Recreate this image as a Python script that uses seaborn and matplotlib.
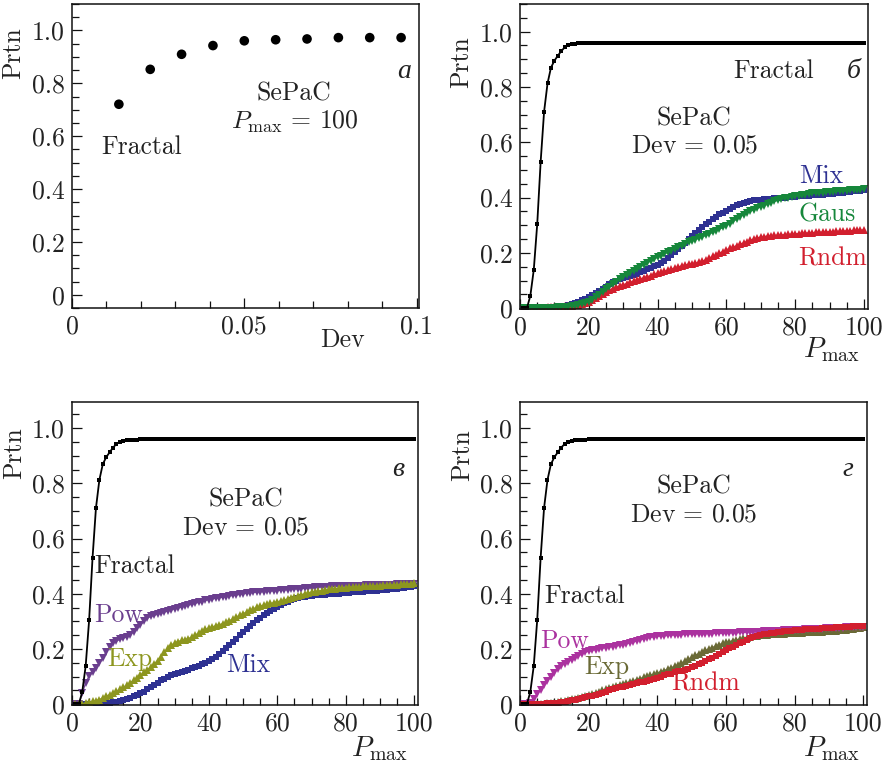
import numpy as np
import matplotlib
matplotlib.use("Agg")
import matplotlib.pyplot as plt
import seaborn as sns
from matplotlib.ticker import MultipleLocator

# ---------------- data ----------------
dev = [0.0136, 0.0227, 0.0318, 0.0409, 0.0500, 0.0591, 0.0682, 0.0773, 0.0864, 0.0955]
prtn_dev = [0.721, 0.853, 0.910, 0.943, 0.961, 0.965, 0.968, 0.973, 0.973, 0.973]

pmax = list(range(1, 101))

fractal = [0.000, 0.000, 0.045, 0.139, 0.304, 0.530, 0.711, 0.813, 0.870, 0.895,
           0.913, 0.930, 0.943, 0.951, 0.955, 0.957, 0.958, 0.959, 0.959, 0.960,
           0.960, 0.960, 0.960, 0.960, 0.960, 0.960, 0.960, 0.960, 0.960, 0.960,
           0.960, 0.960, 0.960, 0.960, 0.960, 0.960, 0.960, 0.960, 0.960, 0.960,
           0.960, 0.960, 0.960, 0.960, 0.960, 0.960, 0.960, 0.960, 0.960, 0.960,
           0.960, 0.960, 0.960, 0.960, 0.960, 0.960, 0.960, 0.960, 0.960, 0.960,
           0.960, 0.960, 0.960, 0.960, 0.960, 0.960, 0.960, 0.960, 0.960, 0.960,
           0.960, 0.960, 0.960, 0.960, 0.960, 0.960, 0.960, 0.960, 0.960, 0.960,
           0.960, 0.960, 0.960, 0.960, 0.960, 0.960, 0.960, 0.960, 0.960, 0.960,
           0.960, 0.960, 0.960, 0.960, 0.960, 0.960, 0.960, 0.960, 0.960, 0.960]

mix = [0.000, 0.000, 0.000, 0.000, 0.001, 0.001, 0.001, 0.002, 0.003, 0.004,
       0.005, 0.007, 0.009, 0.012, 0.015, 0.019, 0.023, 0.028, 0.033, 0.039,
       0.046, 0.054, 0.062, 0.070, 0.078, 0.086, 0.093, 0.099, 0.104, 0.108,
       0.112, 0.116, 0.120, 0.125, 0.130, 0.135, 0.140, 0.145, 0.151, 0.157,
       0.164, 0.172, 0.181, 0.191, 0.202, 0.213, 0.225, 0.237, 0.249, 0.261,
       0.273, 0.284, 0.294, 0.304, 0.313, 0.322, 0.331, 0.339, 0.346, 0.353,
       0.360, 0.366, 0.372, 0.377, 0.381, 0.385, 0.388, 0.390, 0.392, 0.393,
       0.394, 0.395, 0.396, 0.397, 0.398, 0.399, 0.400, 0.401, 0.402, 0.403,
       0.404, 0.405, 0.406, 0.407, 0.408, 0.409, 0.410, 0.411, 0.412, 0.413,
       0.414, 0.415, 0.416, 0.418, 0.419, 0.421, 0.422, 0.424, 0.425, 0.427]

gaus = [0.000, 0.000, 0.000, 0.000, 0.000, 0.001, 0.001, 0.001, 0.002, 0.002,
        0.003, 0.003, 0.004, 0.005, 0.007, 0.009, 0.012, 0.015, 0.019, 0.023,
        0.030, 0.039, 0.049, 0.059, 0.068, 0.077, 0.086, 0.095, 0.104, 0.112,
        0.120, 0.128, 0.136, 0.143, 0.150, 0.157, 0.164, 0.171, 0.178, 0.184,
        0.190, 0.196, 0.202, 0.208, 0.214, 0.220, 0.226, 0.232, 0.238, 0.243,
        0.248, 0.253, 0.258, 0.263, 0.268, 0.274, 0.280, 0.286, 0.292, 0.299,
        0.306, 0.314, 0.322, 0.330, 0.338, 0.345, 0.351, 0.356, 0.361, 0.366,
        0.371, 0.376, 0.381, 0.386, 0.390, 0.394, 0.397, 0.400, 0.403, 0.405,
        0.407, 0.409, 0.411, 0.413, 0.415, 0.416, 0.417, 0.418, 0.419, 0.420,
        0.421, 0.422, 0.423, 0.424, 0.425, 0.426, 0.427, 0.428, 0.429, 0.430]

rndm_b = [0.000, 0.000, 0.000, 0.001, 0.001, 0.002, 0.002, 0.003, 0.003, 0.004,
          0.005, 0.006, 0.007, 0.008, 0.009, 0.010, 0.012, 0.015, 0.019, 0.024,
          0.030, 0.037, 0.045, 0.053, 0.060, 0.066, 0.071, 0.076, 0.080, 0.085,
          0.089, 0.093, 0.098, 0.102, 0.106, 0.110, 0.114, 0.118, 0.122, 0.126,
          0.130, 0.134, 0.137, 0.141, 0.145, 0.149, 0.153, 0.156, 0.159, 0.161,
          0.163, 0.166, 0.170, 0.175, 0.181, 0.187, 0.193, 0.199, 0.205, 0.211,
          0.216, 0.221, 0.226, 0.231, 0.236, 0.241, 0.246, 0.250, 0.254, 0.257,
          0.259, 0.261, 0.262, 0.263, 0.264, 0.265, 0.266, 0.267, 0.268, 0.269,
          0.270, 0.271, 0.272, 0.272, 0.273, 0.274, 0.275, 0.275, 0.276, 0.277,
          0.277, 0.278, 0.278, 0.279, 0.280, 0.280, 0.281, 0.282, 0.282, 0.283]

rndm_d = [0.000, 0.000, 0.000, 0.001, 0.001, 0.002, 0.002, 0.003, 0.004, 0.005,
          0.006, 0.007, 0.009, 0.011, 0.014, 0.016, 0.019, 0.022, 0.025, 0.028,
          0.031, 0.034, 0.038, 0.042, 0.046, 0.050, 0.054, 0.058, 0.061, 0.064,
          0.067, 0.070, 0.073, 0.076, 0.079, 0.082, 0.085, 0.088, 0.092, 0.096,
          0.100, 0.104, 0.108, 0.111, 0.115, 0.119, 0.122, 0.125, 0.129, 0.133,
          0.138, 0.144, 0.150, 0.156, 0.162, 0.169, 0.176, 0.183, 0.190, 0.197,
          0.203, 0.209, 0.215, 0.221, 0.227, 0.233, 0.239, 0.244, 0.248, 0.251,
          0.253, 0.255, 0.257, 0.259, 0.261, 0.263, 0.264, 0.266, 0.267, 0.268,
          0.269, 0.270, 0.271, 0.272, 0.273, 0.274, 0.274, 0.275, 0.276, 0.277,
          0.277, 0.278, 0.279, 0.280, 0.280, 0.281, 0.282, 0.283, 0.284, 0.285]

pow_c = [0.000, 0.000, 0.040, 0.078, 0.102, 0.116, 0.130, 0.148, 0.168, 0.190,
         0.207, 0.221, 0.229, 0.235, 0.239, 0.244, 0.252, 0.263, 0.275, 0.287,
         0.301, 0.312, 0.318, 0.322, 0.326, 0.330, 0.334, 0.338, 0.342, 0.346,
         0.349, 0.352, 0.356, 0.359, 0.362, 0.366, 0.369, 0.372, 0.376, 0.379,
         0.381, 0.384, 0.386, 0.388, 0.390, 0.392, 0.394, 0.396, 0.398, 0.400,
         0.402, 0.404, 0.405, 0.406, 0.407, 0.408, 0.409, 0.410, 0.411, 0.412,
         0.413, 0.414, 0.415, 0.416, 0.417, 0.418, 0.419, 0.420, 0.421, 0.422,
         0.423, 0.424, 0.425, 0.425, 0.426, 0.427, 0.427, 0.428, 0.428, 0.429,
         0.429, 0.429, 0.430, 0.430, 0.430, 0.431, 0.431, 0.431, 0.432, 0.432,
         0.432, 0.433, 0.433, 0.433, 0.434, 0.434, 0.434, 0.435, 0.435, 0.436]

exp_c = [0.000, 0.000, 0.002, 0.004, 0.007, 0.010, 0.013, 0.017, 0.023, 0.029,
         0.035, 0.041, 0.047, 0.054, 0.061, 0.069, 0.078, 0.087, 0.096, 0.105,
         0.115, 0.125, 0.135, 0.146, 0.158, 0.172, 0.188, 0.203, 0.214, 0.222,
         0.227, 0.231, 0.234, 0.238, 0.243, 0.250, 0.258, 0.265, 0.271, 0.276,
         0.280, 0.284, 0.288, 0.292, 0.297, 0.303, 0.309, 0.316, 0.322, 0.328,
         0.334, 0.340, 0.346, 0.351, 0.355, 0.359, 0.362, 0.365, 0.368, 0.371,
         0.374, 0.377, 0.381, 0.385, 0.389, 0.393, 0.397, 0.400, 0.403, 0.406,
         0.408, 0.410, 0.412, 0.414, 0.416, 0.418, 0.419, 0.420, 0.421, 0.422,
         0.423, 0.424, 0.425, 0.426, 0.427, 0.427, 0.428, 0.429, 0.429, 0.430,
         0.431, 0.431, 0.432, 0.433, 0.433, 0.434, 0.435, 0.436, 0.437, 0.438]

pow_d = [0.000, 0.000, 0.006, 0.020, 0.036, 0.053, 0.068, 0.084, 0.100, 0.114,
         0.128, 0.139, 0.147, 0.154, 0.161, 0.168, 0.175, 0.182, 0.188, 0.192,
         0.195, 0.198, 0.201, 0.203, 0.205, 0.207, 0.209, 0.211, 0.213, 0.216,
         0.219, 0.222, 0.225, 0.229, 0.233, 0.237, 0.240, 0.242, 0.244, 0.246,
         0.247, 0.248, 0.249, 0.250, 0.251, 0.251, 0.252, 0.253, 0.254, 0.254,
         0.255, 0.255, 0.255, 0.256, 0.256, 0.256, 0.257, 0.257, 0.257, 0.258,
         0.258, 0.259, 0.259, 0.260, 0.260, 0.261, 0.262, 0.262, 0.263, 0.263,
         0.264, 0.265, 0.265, 0.266, 0.266, 0.267, 0.268, 0.268, 0.269, 0.269,
         0.270, 0.270, 0.271, 0.272, 0.272, 0.273, 0.273, 0.274, 0.275, 0.275,
         0.276, 0.276, 0.277, 0.277, 0.278, 0.279, 0.279, 0.280, 0.280, 0.281]

exp_d = [0.000, 0.000, 0.000, 0.001, 0.001, 0.002, 0.002, 0.003, 0.004, 0.006,
         0.008, 0.010, 0.012, 0.015, 0.018, 0.020, 0.023, 0.026, 0.029, 0.033,
         0.037, 0.042, 0.046, 0.050, 0.054, 0.058, 0.062, 0.066, 0.070, 0.074,
         0.078, 0.081, 0.085, 0.089, 0.093, 0.097, 0.101, 0.105, 0.109, 0.113,
         0.118, 0.122, 0.127, 0.132, 0.137, 0.143, 0.149, 0.156, 0.163, 0.170,
         0.177, 0.183, 0.189, 0.195, 0.200, 0.205, 0.211, 0.216, 0.220, 0.224,
         0.227, 0.230, 0.233, 0.236, 0.239, 0.241, 0.244, 0.246, 0.248, 0.249,
         0.251, 0.252, 0.253, 0.254, 0.255, 0.255, 0.256, 0.257, 0.257, 0.258,
         0.259, 0.259, 0.260, 0.260, 0.261, 0.262, 0.262, 0.263, 0.264, 0.265,
         0.266, 0.267, 0.268, 0.269, 0.270, 0.272, 0.273, 0.275, 0.277, 0.279]

y_tick_vals = [0, 0.2, 0.4, 0.6, 0.8, 1.0]
y_tick_labels = ["0", "0.2", "0.4", "0.6", "0.8", "1.0"]
xa_tick_vals = [0, 0.05, 0.1]
xa_tick_labels = ["0", "0.05", "0.1"]
xp_tick_vals = [0, 20, 40, 60, 80, 100]
xp_tick_labels = ["0", "20", "40", "60", "80", "100"]

# colours
C_MIX = "#2e3192"
C_GAUS = "#16873b"
C_RNDM = "#d21f2e"
C_POW_C = "#6a3e8e"
C_EXP_C = "#8d961f"
C_POW_D = "#ab329f"
C_EXP_D = "#6a6a36"
C_TXT = "#222222"

# ---------------- style ----------------
sns.set_style("ticks")
plt.rcParams["font.family"] = ["cmr10"]
plt.rcParams["mathtext.fontset"] = "cm"
plt.rcParams["axes.unicode_minus"] = False
plt.rcParams["axes.formatter.use_mathtext"] = True

FS = 18.5
CYR = dict(family=["Liberation Serif", "DejaVu Serif"], style="italic", fontsize=20)

fig = plt.figure(figsize=(8.9, 7.67), dpi=100)
ax_a = fig.add_axes([0.0809, 0.5984, 0.3899, 0.3963])
ax_b = fig.add_axes([0.5843, 0.5971, 0.3910, 0.3977])
ax_c = fig.add_axes([0.0809, 0.0808, 0.3891, 0.3954])
ax_d = fig.add_axes([0.5843, 0.0808, 0.3896, 0.3954])


def style_axes(ax, xticks, xlabels, xminor):
    ax.set_yticks(y_tick_vals)
    ax.set_yticklabels(y_tick_labels)
    ax.yaxis.set_minor_locator(MultipleLocator(0.05))
    ax.set_xticks(xticks)
    ax.set_xticklabels(xlabels)
    ax.xaxis.set_minor_locator(MultipleLocator(xminor))
    ax.tick_params(axis="both", which="both", direction="in", top=False, right=False,
                   colors="#111111", labelcolor=C_TXT, labelsize=FS, width=0.9)
    ax.tick_params(axis="both", which="major", length=7, pad=5)
    ax.tick_params(axis="both", which="minor", length=5)
    for s in ax.spines.values():
        s.set_visible(True)
        s.set_linewidth(1.1)
        s.set_color("#111111")
    ax.set_ylabel("Prtn", fontsize=FS, color=C_TXT, va="center", ha="center")


def draw_curve(ax, y, color, marker, ms, lw=0.9):
    sns.lineplot(x=pmax, y=y, ax=ax, color=color, marker=marker, markersize=ms,
                 markeredgewidth=0, linewidth=lw)


def draw_fractal(ax):
    sns.lineplot(x=pmax, y=fractal, ax=ax, color="black", marker="s", markersize=2.8,
                 markeredgewidth=0, linewidth=1.3)


def set_xlab(ax, text, x, y, fs):
    ax.set_xlabel(text, fontsize=fs, color=C_TXT, va="center", ha="center")
    ax.xaxis.set_label_coords(x, y)

# ---- panel a ----
sns.scatterplot(x=dev, y=prtn_dev, ax=ax_a, color="black", s=48, edgecolor="none")
ax_a.set_xlim(0, 0.1007)
ax_a.set_ylim(-0.05, 1.1)
style_axes(ax_a, xa_tick_vals, xa_tick_labels, 0.01)
set_xlab(ax_a, "Dev", 0.778, -0.105, FS)
ax_a.yaxis.set_label_coords(-0.17, 0.84)
ax_a.text(0.0202, 0.56, "Fractal", fontsize=FS, color=C_TXT, ha="center", va="center")
ax_a.text(0.0644, 0.76, "SePaC", fontsize=FS, color=C_TXT, ha="center", va="center")
ax_a.text(0.0647, 0.654, r"$P_{\mathrm{max}}\,=\,100$", fontsize=FS, color=C_TXT, ha="center", va="center")
ax_a.text(0.0963, 0.845, "а", color=C_TXT, ha="center", va="center", **CYR)

# ---- panel b ----
draw_curve(ax_b, mix, C_MIX, "s", 4.8)
draw_curve(ax_b, rndm_b, C_RNDM, "^", 5.2)
draw_curve(ax_b, gaus, C_GAUS, "v", 5.2)
draw_fractal(ax_b)
ax_b.set_xlim(0, 101.2)
ax_b.set_ylim(-0.003, 1.1)
style_axes(ax_b, xp_tick_vals, xp_tick_labels, 5)
set_xlab(ax_b, r"$P_{\mathrm{max}}$", 0.896, -0.134, FS + 2)
ax_b.yaxis.set_label_coords(-0.168, 0.811)
ax_b.text(73.6, 0.859, "Fractal", fontsize=FS, color=C_TXT, ha="center", va="center")
ax_b.text(97.2, 0.855, "б", color=C_TXT, ha="center", va="center", **CYR)
ax_b.text(50.7, 0.687, "SePaC", fontsize=FS, color=C_TXT, ha="center", va="center")
ax_b.text(50.9, 0.587, r"$\mathrm{Dev}\,=\,0.05$", fontsize=FS, color=C_TXT, ha="center", va="center")
ax_b.text(87.7, 0.478, "Mix", fontsize=FS, color=C_MIX, ha="center", va="center")
ax_b.text(89.4, 0.340, "Gaus", fontsize=FS, color=C_GAUS, ha="center", va="center")
ax_b.text(90.8, 0.181, "Rndm", fontsize=FS, color=C_RNDM, ha="center", va="center")

# ---- panel c ----
draw_curve(ax_c, mix, C_MIX, "s", 4.8)
draw_curve(ax_c, pow_c, C_POW_C, "v", 5.2)
draw_curve(ax_c, exp_c, C_EXP_C, "^", 5.2)
draw_fractal(ax_c)
ax_c.set_xlim(0.5, 101.2)
ax_c.set_ylim(-0.003, 1.096)
style_axes(ax_c, xp_tick_vals, xp_tick_labels, 5)
set_xlab(ax_c, r"$P_{\mathrm{max}}$", 0.889, -0.143, FS + 2)
ax_c.yaxis.set_label_coords(-0.167, 0.83)
ax_c.text(95.4, 0.849, "в", color=C_TXT, ha="center", va="center", **CYR)
ax_c.text(50.8, 0.740, "SePaC", fontsize=FS, color=C_TXT, ha="center", va="center")
ax_c.text(50.8, 0.641, r"$\mathrm{Dev}\,=\,0.05$", fontsize=FS, color=C_TXT, ha="center", va="center")
ax_c.text(18.2, 0.499, "Fractal", fontsize=FS, color=C_TXT, ha="center", va="center")
ax_c.text(13.5, 0.321, "Pow", fontsize=FS, color=C_POW_C, ha="center", va="center")
ax_c.text(16.9, 0.163, "Exp", fontsize=FS, color=C_EXP_C, ha="center", va="center")
ax_c.text(51.5, 0.142, "Mix", fontsize=FS, color=C_MIX, ha="center", va="center")

# ---- panel d ----
draw_curve(ax_d, exp_d, C_EXP_D, "^", 5.2)
draw_curve(ax_d, pow_d, C_POW_D, "v", 5.2)
draw_curve(ax_d, rndm_d, C_RNDM, "s", 4.8)
draw_fractal(ax_d)
ax_d.set_xlim(0, 101)
ax_d.set_ylim(-0.003, 1.096)
style_axes(ax_d, xp_tick_vals, xp_tick_labels, 5)
set_xlab(ax_d, r"$P_{\mathrm{max}}$", 0.899, -0.143, FS + 2)
ax_d.yaxis.set_label_coords(-0.168, 0.825)
ax_d.text(95.4, 0.849, "г", color=C_TXT, ha="center", va="center", **CYR)
ax_d.text(50.5, 0.788, "SePaC", fontsize=FS, color=C_TXT, ha="center", va="center")
ax_d.text(50.5, 0.686, r"$\mathrm{Dev}\,=\,0.05$", fontsize=FS, color=C_TXT, ha="center", va="center")
ax_d.text(18.7, 0.392, "Fractal", fontsize=FS, color=C_TXT, ha="center", va="center")
ax_d.text(13.1, 0.230, "Pow", fontsize=FS, color=C_POW_D, ha="center", va="center")
ax_d.text(25.3, 0.136, "Exp", fontsize=FS, color=C_EXP_D, ha="center", va="center")
ax_d.text(53.9, 0.076, "Rndm", fontsize=FS, color=C_RNDM, ha="center", va="center")

fig.savefig("out.png", dpi=100)
